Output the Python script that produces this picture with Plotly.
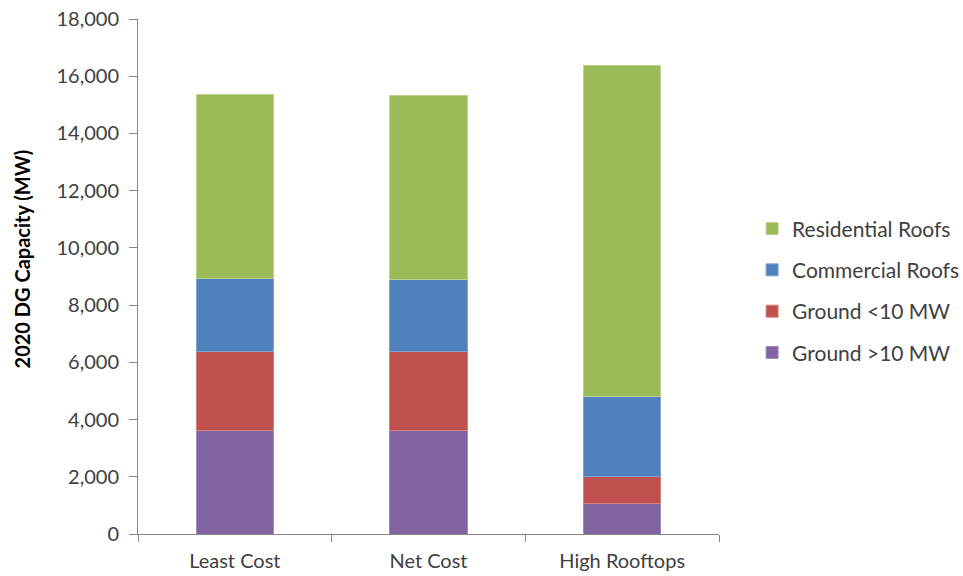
import plotly.graph_objects as go

# Scenario categories and stacked DG capacity (MW) per segment
scenarios = ["Least Cost", "Net Cost", "High Rooftops"]
ground_gt10 = [3610, 3610, 1070]
ground_lt10 = [2770, 2770, 940]
commercial_roofs = [2540, 2500, 2800]
residential_roofs = [6450, 6450, 11580]

series = [
    ("Ground >10 MW", ground_gt10, "#8064A2", "#A08BBB", 4),
    ("Ground <10 MW", ground_lt10, "#C0504D", "#D6807E", 3),
    ("Commercial Roofs", commercial_roofs, "#4F81BD", "#7FA3D1", 2),
    ("Residential Roofs", residential_roofs, "#9BBB59", "#BBD38C", 1),
]

fig = go.Figure()
for name, vals, color, edge, rank in series:
    fig.add_trace(go.Bar(
        x=scenarios, y=vals, name=name, legendgroup=name, legendrank=rank,
        marker=dict(color=color, line=dict(color=edge, width=1)),
        width=0.4,
    ))

text_color = "#404040"
axis_color = "#868686"

fig.update_layout(
    barmode="stack",
    width=963, height=576,
    margin=dict(l=138, r=244, t=19, b=42, autoexpand=False),
    paper_bgcolor="white", plot_bgcolor="white",
    font=dict(family="Lato, Open Sans, sans-serif", size=19, color=text_color),
    legend=dict(
        xref="container", x=0.781, xanchor="left", y=0.472, yanchor="middle",
        traceorder="grouped", tracegroupgap=11,
        font=dict(size=21, color=text_color),
        itemwidth=30,
    ),
    xaxis=dict(
        showline=True, linecolor=axis_color, linewidth=1,
        ticks="outside", tickson="boundaries", ticklen=7, tickcolor=axis_color,
        showgrid=False, tickfont=dict(size=20), ticklabelstandoff=9,
    ),
    yaxis=dict(
        range=[0, 18000], dtick=2000, tickformat=",",
        showline=True, linecolor=axis_color, linewidth=1,
        ticks="outside", ticklen=8, tickcolor=axis_color,
        showgrid=False, zeroline=False, tickfont=dict(size=20),
        ticklabelstandoff=6,
    ),
    annotations=[dict(
        text="<b>2020 DG Capacity (MW)</b>", textangle=-90,
        xref="paper", yref="paper", x=-0.198, y=0.535,
        xanchor="center", yanchor="middle", showarrow=False,
        font=dict(size=20, color="#000000"),
    )],
)

fig.write_html("out.html")
